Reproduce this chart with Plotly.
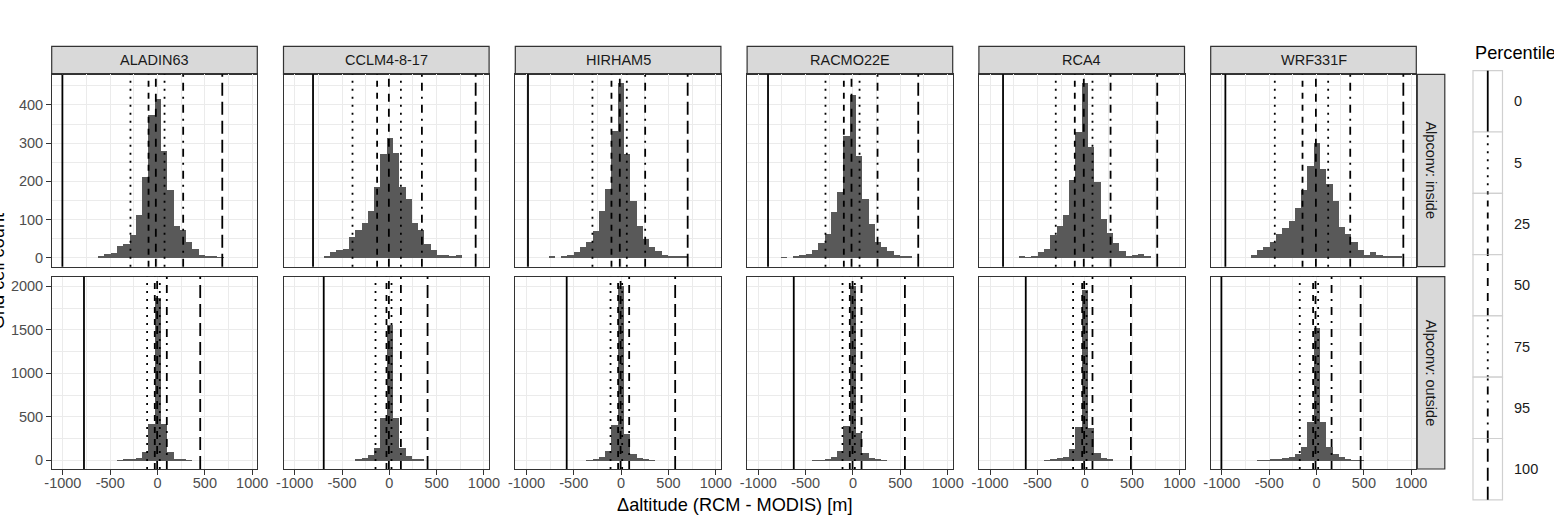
import plotly.graph_objects as go

# ---------------- data ----------------
models = ["ALADIN63", "CCLM4-8-17", "HIRHAM5", "RACMO22E", "RCA4", "WRF331F"]
regions = ["Alpconv: inside", "Alpconv: outside"]
percentile_levels = ["0", "5", "25", "50", "75", "95", "100"]

bin_width = 66.3  # histogram bin width [m]; bins centred on multiples of it

# histogram counts, first value belongs to bin index given by *_start
aladin_inside_start = -9
aladin_inside_counts = [2, 9, 13, 30, 36, 58, 112, 212, 374, 415, 279, 176, 82, 71, 42, 22, 8, 4, 2, 1]
cclm_inside_start = -10
cclm_inside_counts = [4, 15, 19, 23, 53, 72, 91, 123, 184, 271, 312, 273, 184, 152, 91, 71, 36, 21, 8, 6, 5, 8]
hirham_inside_start = -11
hirham_inside_counts = [2, 0, 2, 7, 15, 28, 41, 70, 123, 180, 331, 457, 270, 147, 83, 50, 28, 17, 8, 4, 3, 2]
racmo_inside_start = -11
racmo_inside_counts = [1, 0, 3, 6, 10, 19, 39, 62, 118, 172, 318, 424, 266, 153, 88, 41, 28, 17, 7, 4, 3]
rca_inside_start = -10
rca_inside_counts = [3, 1, 2, 15, 23, 60, 83, 112, 203, 329, 456, 290, 198, 102, 65, 39, 17, 4, 8, 10, 2]
wrf_inside_start = -10
wrf_inside_counts = [6, 19, 28, 41, 61, 78, 95, 129, 178, 240, 299, 231, 192, 147, 80, 61, 41, 19, 8, 15, 8, 4, 2, 2]

aladin_outside_start = -6
aladin_outside_counts = [4, 8, 12, 27, 103, 418, 1866, 418, 97, 22, 12, 3]
cclm_outside_start = -5
cclm_outside_counts = [10, 25, 60, 142, 494, 1560, 494, 142, 55, 20, 8]
hirham_outside_start = -5
hirham_outside_counts = [3, 16, 46, 111, 410, 2005, 307, 77, 27, 8, 5]
racmo_outside_start = -6
racmo_outside_counts = [2, 3, 20, 46, 111, 402, 2010, 314, 92, 27, 8, 5]
rca_outside_start = -6
rca_outside_counts = [3, 8, 27, 46, 134, 391, 1962, 372, 85, 27, 8]
wrf_outside_start = -9
wrf_outside_counts = [3, 5, 9, 16, 27, 40, 77, 153, 448, 1522, 448, 161, 77, 39, 16, 6, 2]

# percentile values (0, 5, 25, 50, 75, 95, 100) [m]
aladin_inside_pct = [-1005, -286, -95, -18, 74, 271, 684]
cclm_inside_pct = [-806, -389, -129, -5, 122, 344, 912]
hirham_inside_pct = [-984, -303, -102, -14, 60, 254, 703]
racmo_inside_pct = [-897, -290, -96, -15, 70, 260, 690]
rca_inside_pct = [-863, -306, -105, -10, 82, 273, 766]
wrf_inside_pct = [-963, -441, -148, -7, 123, 356, 917]

aladin_outside_pct = [-777, -110, -29, -4, 24, 98, 451]
cclm_outside_pct = [-693, -146, -30, -5, 23, 122, 404]
hirham_outside_pct = [-575, -112, -32, -6, 11, 85, 571]
racmo_outside_pct = [-625, -110, -33, -4, 20, 91, 549]
rca_outside_pct = [-623, -123, -27, -6, 19, 82, 488]
wrf_outside_pct = [-1005, -177, -36, -11, 17, 159, 466]

x_tick_values = [-1000, -500, 0, 500, 1000]
x_tick_labels = ["-1000", "-500", "0", "500", "1000"]
x_minor_values = [-750, -250, 250, 750]
y_top_tick_values = [0, 100, 200, 300, 400]
y_top_minor_values = [50, 150, 250, 350, 450]
y_bottom_tick_values = [0, 500, 1000, 1500, 2000]
y_bottom_minor_values = [250, 750, 1250, 1750]

inside_starts = [aladin_inside_start, cclm_inside_start, hirham_inside_start,
                 racmo_inside_start, rca_inside_start, wrf_inside_start]
inside_counts = [aladin_inside_counts, cclm_inside_counts, hirham_inside_counts,
                 racmo_inside_counts, rca_inside_counts, wrf_inside_counts]
outside_starts = [aladin_outside_start, cclm_outside_start, hirham_outside_start,
                  racmo_outside_start, rca_outside_start, wrf_outside_start]
outside_counts = [aladin_outside_counts, cclm_outside_counts, hirham_outside_counts,
                  racmo_outside_counts, rca_outside_counts, wrf_outside_counts]
inside_pcts = [aladin_inside_pct, cclm_inside_pct, hirham_inside_pct,
               racmo_inside_pct, rca_inside_pct, wrf_inside_pct]
outside_pcts = [aladin_outside_pct, cclm_outside_pct, hirham_outside_pct,
                racmo_outside_pct, rca_outside_pct, wrf_outside_pct]

# ---------------- styling / layout ----------------
W, H = 1554, 522
FONT = "Liberation Sans, Arial, sans-serif"
BAR = "#595959"
GRID = "#EBEBEB"
BORDER = "#333333"
STRIP = "#D9D9D9"
SMALL = 14.5   # axis text / strip text / legend labels
LARGE = 18.2   # titles
LW = 1.8

dashes = ["solid", "2px,6px", "6px,6px", "8px,7px", "2px,6px", "8px,6px,2px,6px", "13px,6px"]

x_range = [-1118, 1054]
y_ranges = [[-22.9, 480], [-100.5, 2111]]

panel_left0, panel_w, panel_step = 51.7, 205.6, 231.8
row_tops = [74.3, 276.7]
row_bottoms = [266.7, 469.0]


def px_x(p):
    return p / W


def px_y(p):
    return 1 - p / H


fig = go.Figure()
shapes = []
annotations = []
layout_axes = {}

for r in range(2):
    starts = inside_starts if r == 0 else outside_starts
    counts_all = inside_counts if r == 0 else outside_counts
    pcts_all = inside_pcts if r == 0 else outside_pcts
    for c in range(6):
        n = r * 6 + c + 1
        xa = "x" if n == 1 else f"x{n}"
        ya = "y" if n == 1 else f"y{n}"
        counts = counts_all[c]
        centers = [(starts[c] + i) * bin_width for i in range(len(counts))]
        fig.add_trace(go.Bar(x=centers, y=counts, width=bin_width,
                             marker=dict(color=BAR, line=dict(width=0)),
                             xaxis=xa, yaxis=ya, showlegend=False,
                             hoverinfo="x+y"))
        for val, dash in zip(pcts_all[c], dashes):
            shapes.append(dict(type="line", xref=xa, yref=f"{ya} domain",
                               x0=val, x1=val, y0=0, y1=1,
                               line=dict(color="black", width=LW, dash=dash),
                               layer="above"))
        left = panel_left0 + c * panel_step
        xdom = [px_x(left), px_x(left + panel_w)]
        ydom = [px_y(row_bottoms[r]), px_y(row_tops[r])]
        bottom_row = r == 1
        left_col = c == 0
        xkey = "xaxis" if n == 1 else f"xaxis{n}"
        ykey = "yaxis" if n == 1 else f"yaxis{n}"
        layout_axes[xkey] = dict(
            domain=xdom, anchor=ya, range=x_range, automargin=False,
            tickmode="array", tickvals=x_tick_values, ticktext=x_tick_labels,
            showticklabels=bottom_row, ticks="outside" if bottom_row else "",
            ticklen=4.5, tickwidth=1.2, tickcolor=BORDER, ticklabelstandoff=-4,
            tickfont=dict(family=FONT, size=SMALL, color="#4D4D4D"),
            showgrid=True, gridcolor=GRID, gridwidth=1.4,
            minor=dict(tickvals=x_minor_values, showgrid=True, gridcolor=GRID,
                       gridwidth=0.7, ticks=""),
            zeroline=False, showline=True, mirror=True,
            linecolor=BORDER, linewidth=1.2, fixedrange=True)
        ytv = y_top_tick_values if r == 0 else y_bottom_tick_values
        ymv = y_top_minor_values if r == 0 else y_bottom_minor_values
        layout_axes[ykey] = dict(
            domain=ydom, anchor=xa, range=y_ranges[r], automargin=False,
            tickmode="array", tickvals=ytv, ticktext=[str(v) for v in ytv],
            showticklabels=left_col, ticks="outside" if left_col else "",
            ticklen=4.5, tickwidth=1.2, tickcolor=BORDER,
            tickfont=dict(family=FONT, size=SMALL, color="#4D4D4D"),
            showgrid=True, gridcolor=GRID, gridwidth=1.4,
            minor=dict(tickvals=ymv, showgrid=True, gridcolor=GRID,
                       gridwidth=0.7, ticks=""),
            zeroline=False, showline=True, mirror=True,
            linecolor=BORDER, linewidth=1.2, fixedrange=True)

# top strips (model names)
for c, m in enumerate(models):
    left = panel_left0 + c * panel_step
    shapes.append(dict(type="rect", xref="paper", yref="paper",
                       x0=px_x(left), x1=px_x(left + panel_w),
                       y0=px_y(74.3), y1=px_y(46.3),
                       fillcolor=STRIP, line=dict(color=BORDER, width=1.2), layer="below"))
    annotations.append(dict(text=m, xref="paper", yref="paper",
                            x=px_x(left + panel_w / 2), y=px_y(60.3),
                            xanchor="center", yanchor="middle", showarrow=False,
                            font=dict(family=FONT, size=SMALL, color="#1A1A1A")))

# right strips (regions)
strip_x0, strip_x1 = 1417.3, 1444.8
for r, reg in enumerate(regions):
    shapes.append(dict(type="rect", xref="paper", yref="paper",
                       x0=px_x(strip_x0), x1=px_x(strip_x1),
                       y0=px_y(row_bottoms[r]), y1=px_y(row_tops[r]),
                       fillcolor=STRIP, line=dict(color=BORDER, width=1.2), layer="below"))
    annotations.append(dict(text=reg, xref="paper", yref="paper",
                            x=px_x((strip_x0 + strip_x1) / 2),
                            y=px_y((row_tops[r] + row_bottoms[r]) / 2),
                            xanchor="center", yanchor="middle", showarrow=False,
                            textangle=90,
                            font=dict(family=FONT, size=SMALL, color="#1A1A1A")))

# axis titles
annotations.append(dict(text="Δaltitude (RCM - MODIS) [m]", xref="paper", yref="paper",
                        x=px_x(734), y=px_y(505), xanchor="center", yanchor="middle",
                        showarrow=False, font=dict(family=FONT, size=LARGE, color="black")))
annotations.append(dict(text="Grid cell count", xref="paper", yref="paper",
                        x=px_x(-2.5), y=px_y(271.7), xanchor="center", yanchor="middle",
                        showarrow=False, textangle=-90,
                        font=dict(family=FONT, size=LARGE, color="black")))

# legend (drawn manually, vertical line keys like ggplot)
annotations.append(dict(text="Percentile", xref="paper", yref="paper",
                        x=px_x(1472.5), y=px_y(53), xanchor="left", yanchor="middle",
                        showarrow=False, font=dict(family=FONT, size=LARGE, color="black")))
key_x0, key_x1, key_top, key_h = 1473.0, 1502.5, 70.7, 61.3
for i, (lab, dash) in enumerate(zip(percentile_levels, dashes)):
    t = key_top + i * key_h
    shapes.append(dict(type="rect", xref="paper", yref="paper",
                       x0=px_x(key_x0), x1=px_x(key_x1), y0=px_y(t + key_h), y1=px_y(t),
                       fillcolor="white", line=dict(color="#D0D0D0", width=1.2)))
    xm = px_x((key_x0 + key_x1) / 2)
    shapes.append(dict(type="line", xref="paper", yref="paper",
                       x0=xm, x1=xm, y0=px_y(t + key_h), y1=px_y(t),
                       line=dict(color="black", width=LW, dash=dash)))
    annotations.append(dict(text=lab, xref="paper", yref="paper",
                            x=px_x(1511.5), y=px_y(t + key_h / 2),
                            xanchor="left", yanchor="middle", showarrow=False,
                            font=dict(family=FONT, size=SMALL, color="#1A1A1A")))

fig.update_layout(
    width=W, height=H,
    margin=dict(l=0, r=0, t=0, b=0, autoexpand=False),
    paper_bgcolor="white", plot_bgcolor="white",
    bargap=0, barmode="overlay",
    showlegend=False,
    shapes=shapes, annotations=annotations,
    font=dict(family=FONT),
    **layout_axes,
)

fig.write_html(
    "out.html",
    config=dict(displayModeBar=False),
    post_script="document.documentElement.style.margin='0';"
                "document.body.style.margin='0';document.body.style.padding='0';"
                "document.body.style.overflow='hidden';",
)
